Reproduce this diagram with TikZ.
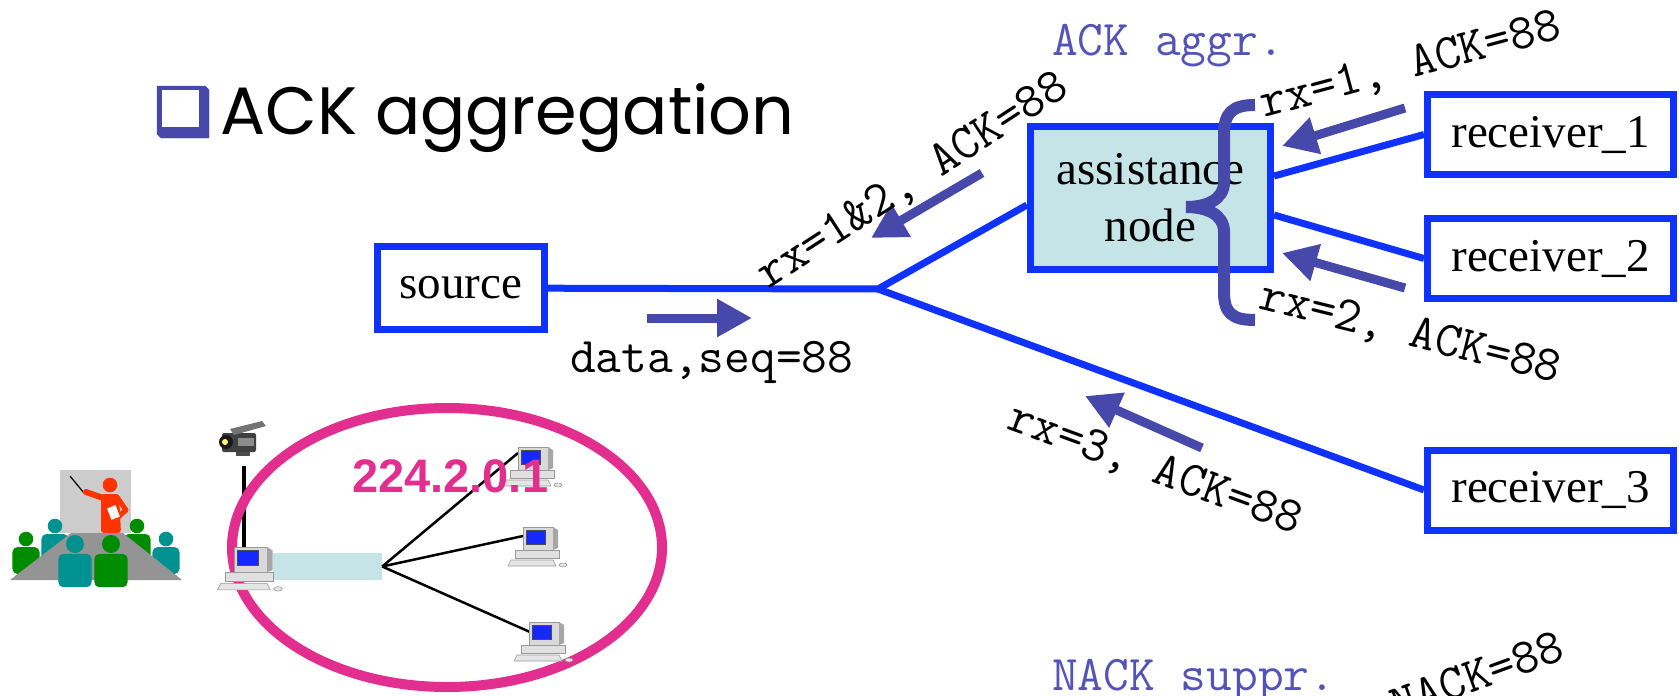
\documentclass[tikz,border=0pt]{standalone}
\usepackage{fontspec}
\setmainfont{Liberation Serif}
\setsansfont{Liberation Sans}
\newfontfamily\handfont{Poppins}
\usetikzlibrary{positioning,arrows.meta}
\definecolor{linkblue}{RGB}{16,50,255}
\definecolor{ackpurple}{RGB}{70,72,170}
\definecolor{notepurple}{RGB}{84,84,184}
\definecolor{groupmagenta}{RGB}{226,46,143}
\definecolor{paleteal}{RGB}{197,228,231}
\definecolor{seatteal}{RGB}{0,145,145}
\definecolor{seatgreen}{RGB}{0,140,0}
\definecolor{speakerred}{RGB}{255,51,0}
\definecolor{screenblue}{RGB}{20,40,255}

\begin{document}
\begin{tikzpicture}[x=1pt, y=-1pt,
    box/.style={draw=linkblue, line width=7pt, fill=white, inner sep=0pt, align=center, font=\fontsize{47}{57}\selectfont},
    link/.style={draw=linkblue, line width=7pt},
    ack/.style={draw=ackpurple, line width=9pt, -{Triangle[length=35pt,width=36pt]}},
    tag/.style={inner sep=0pt, font=\ttfamily\fontsize{50}{50}\selectfont},
    note/.style={tag, text=notepurple, anchor=base west},
    person/.pic={
      \fill[#1] (0,0) circle [radius=1];
      \fill[#1, rounded corners=5pt] (-1.85,4.8) -- (-1.85,1.1) -- (1.85,1.1) -- (1.85,4.8) -- cycle;
    },
    computer/.pic={
      \filldraw[fill=black!12, draw=black!40, line width=0.6pt] (-8,23) rectangle (36,31);
      \filldraw[fill=black!15, draw=black!40, line width=0.6pt] (0,0) rectangle (30,23);
      \fill[black!35] (30,0) -- (35,3) -- (35,21) -- (30,23) -- cycle;
      \filldraw[fill=screenblue, draw=black!70, line width=0.6pt] (3,3) rectangle (22,17);
      \filldraw[fill=black!10, draw=black!40, line width=0.6pt] (-12,33) -- (30,33) -- (33,39) -- (-15,39) -- cycle;
      \filldraw[fill=black!10, draw=black!40, line width=0.6pt] (40,38) ellipse [x radius=4, y radius=2];
    }]
    \useasboundingbox (0,0) rectangle (1679,696);
    \clip (0,0) rectangle (1679,696);

    \filldraw[fill=ackpurple, draw=ackpurple] (157,86) -- (205,86) -- (209,90) -- (209,138) -- (161,138) -- (157,134) -- cycle;
    \fill[white] (161.5,89.5) rectangle (199,127);
    \node[anchor=base west, inner sep=0pt, font=\handfont\fontsize{67}{67}\selectfont] (title) at (220,134) {ACK aggregation};

    \node[box, minimum width=167pt, minimum height=83pt] (source) at (461,288) {source};
    \node[box, fill=paleteal, minimum width=240pt, minimum height=143pt] (asst) at (1150.5,198) {assistance\\node};
    \node[box, minimum width=246pt, minimum height=80pt] (r1) at (1550.5,134.5) {receiver\_1};
    \node[box, minimum width=246pt, minimum height=80pt] (r2) [below=37pt of r1] {receiver\_2};
    \node[box, minimum width=246pt, minimum height=80pt] (r3) at (1550.5,490) {receiver\_3};
    \coordinate (fork) at (878,289);

    \path[link]
      (source) edge (fork)
      (fork) edge ([yshift=-7pt]asst.west)
      (fork) edge (r3.west)
      ([yshift=22pt]asst.east) edge (r1.west)
      ([yshift=-17pt]asst.east) edge (r2.west);

    \coordinate (brace top) at (1255,105);
    \coordinate (brace tip) at (1186,207);
    \coordinate (brace bottom) at (1255,320);
    \draw[ackpurple, line width=12pt]
      (brace top) .. controls (1232,105) and (1224,113) .. (1224,135) -- (1224,182)
      .. controls (1224,200) and (1206,207) .. (brace tip)
      .. controls (1206,207) and (1224,214) .. (1224,232) -- (1224,292)
      .. controls (1224,313) and (1232,320) .. (brace bottom);

    \coordinate (d0) at (647,318);  \coordinate (d1) at (752,318);
    \coordinate (a0) at (982,173);  \coordinate (a1) at (871,238);
    \coordinate (b0) at (1405,108); \coordinate (b1) at (1282,146);
    \coordinate (c0) at (1405,288); \coordinate (c1) at (1282,253);
    \coordinate (e0) at (1202,448); \coordinate (e1) at (1085,396);
    \draw[ack] (d0) -- (d1);
    \draw[ack] (a0) -- (a1);
    \draw[ack] (b0) -- (b1);
    \draw[ack] (c0) -- (c1);
    \draw[ack] (e0) -- (e1);

    \node[tag, anchor=base west] (seq) at (570,372) {data,seq=88};
    \node[tag, rotate=33] (l12) at (913,181) {rx=1\&2, ACK=88};
    \node[tag, rotate=15] (l1) at (1411,66) {rx=1, ACK=88};
    \node[tag, rotate=-14] (l2) at (1410,334) {rx=2, ACK=88};
    \node[tag, rotate=-20] (l3) at (1155,470) {rx=3, ACK=88};
    \node[tag, rotate=20] (nack) at (1477,675) {NACK=88};
    \node[note] (aggr) at (1052,55) {ACK aggr.};
    \node[note] (suppr) at (1052,690) {NACK suppr.};

    \fill[black!20] (60,470) rectangle (131,533);
    \draw[line width=1.2pt] (70,476) -- (84,493);
    \fill[speakerred] (110,485) circle [radius=7.3];
    \fill[speakerred, rounded corners=3pt] (101,494) -- (119,494) -- (121,533) -- (101,533) -- cycle;
    \draw[speakerred, line width=6pt, line cap=round] (103,498) -- (86,492);
    \draw[speakerred, line width=5pt, line cap=round, line join=round] (117,497) -- (126,510) -- (118,517);
    \filldraw[fill=white, draw=speakerred, line width=1.5pt] (106,508) -- (116,504) -- (121,517) -- (111,521) -- cycle;
    \pic[scale=7.3] at (55,526) {person=seatteal};
    \pic[scale=7.3] at (137,526) {person=seatgreen};
    \pic[scale=7.3] at (26,539) {person=seatgreen};
    \pic[scale=7.3] at (166,539) {person=seatteal};
    \fill[black!42] (71,533) -- (123,533) -- (182,580) -- (10,580) -- cycle;
    \pic[scale=9] at (75,544) {person=seatteal};
    \pic[scale=9] at (111,544) {person=seatgreen};

    \fill[black!75, rounded corners=2pt] (222,433) rectangle (256,452);
    \fill[black!55] (230,429) -- (262,421) -- (266,426) -- (234,435) -- cycle;
    \fill[black!90] (226,442) circle [radius=7];
    \fill[yellow!60!white] (225,442) circle [radius=3];
    \fill[black!45] (238,438) rectangle (254,446);
    \fill[black!70] (236,452) rectangle (250,456);
    \coordinate (cam) at (244,466);
    \coordinate (campc) at (244,547);
    \draw[line width=4.7pt] (cam) -- (campc);

    \draw[groupmagenta, line width=10pt] (447,547.5) ellipse [x radius=215, y radius=139.5];

    \node[fill=paleteal, inner sep=0pt, minimum width=109pt, minimum height=27pt] (hub) at (327.5,566.5) {};
    \coordinate (pc1) at (518,453);
    \coordinate (pc2) at (523,536);
    \coordinate (pc3) at (530,632);
    \path[draw, line width=2.5pt]
      (hub.east) edge (pc1)
      (hub.east) edge (pc2)
      (hub.east) edge (pc3);
    \pic[scale=1.1] at (234,547) {computer};
    \pic at (518,447) {computer};
    \pic at (523,527) {computer};
    \pic at (529,622) {computer};
    \node[anchor=base west, inner sep=0pt, text=groupmagenta, font=\sffamily\bfseries\fontsize{47}{47}\selectfont] (group) at (352,492) {224.2.0.1};
\end{tikzpicture}
\end{document}
